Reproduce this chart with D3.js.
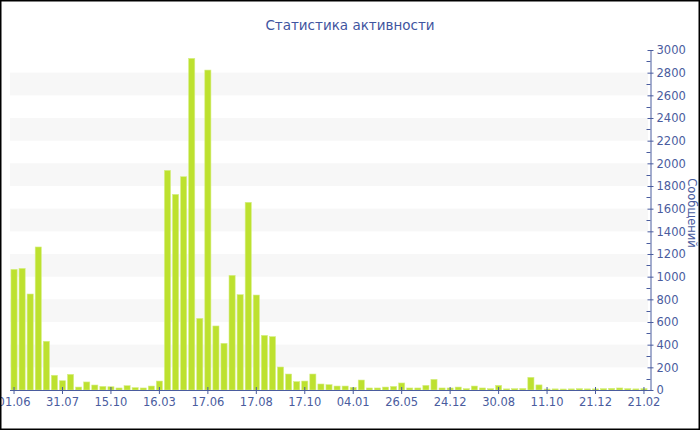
<!DOCTYPE html>
<html>
<head>
<meta charset="utf-8">
<script src="https://cdn.jsdelivr.net/npm/d3@7"></script>
<style>
  body { margin: 0; background: #fff; }
  svg { display: block; font-family: 'DejaVu Sans', Verdana, sans-serif; }
</style>
</head>
<body>
<div id="wrapper"></div>
<script>
// messages per period
const messages = [
    1065, 1073, 847, 1262, 430, 130, 82, 138, 26, 71,
    44, 32, 29, 18, 38, 21, 18, 35, 79, 1938,
    1726, 1882, 2926, 632, 2823, 565, 412, 1012, 841, 1656,
    838, 482, 471, 203, 141, 74, 79, 141, 53, 47,
    35, 35, 24, 88, 18, 18, 26, 32, 62, 18,
    18, 41, 94, 18, 18, 26, 12, 35, 18, 12,
    41, 10, 12, 14, 112, 45, 9, 10, 9, 10,
    12, 10, 10, 12, 15, 18, 12, 10, 12
]
// labels shown under every 6th bar
const tickLabels = ['01.06', '31.07', '15.10', '16.03', '17.06', '17.08', '17.10',
    '04.01', '26.05', '24.12', '30.08', '11.10', '21.12', '21.02']
const tickEvery = 6
const yTicks = d3.range(0, 3001, 200)
const yMinorTicks = d3.range(100, 3000, 200)
// lower edge of each grey band
const bandStarts = d3.range(200, 3000, 400)

const title = 'Статистика активности'
const yTitle = 'Сообщений'

const axisColor = '#4a5c9e'
const textColor = '#4a5c9e'

let dimensions = {
    width: 700,
    height: 430,
    margin: { top: 50, right: 50, bottom: 40, left: 10 }
}
dimensions.boundedWidth = dimensions.width - dimensions.margin.left - dimensions.margin.right
dimensions.boundedHeight = dimensions.height - dimensions.margin.top - dimensions.margin.bottom

function drawChart () {
    const svg = d3.select('#wrapper').append('svg')
        .attr('width', dimensions.width)
        .attr('height', dimensions.height)

    const bounds = svg.append('g')
        .attr('transform', `translate(${dimensions.margin.left}, ${dimensions.margin.top})`)

    const xScale = d3.scaleBand()
        .domain(d3.range(messages.length))
        .range([0, dimensions.boundedWidth - 2])
        .paddingInner(0.24)
        .paddingOuter(0.12)

    const yScale = d3.scaleLinear()
        .domain([0, 3000])
        .range([dimensions.boundedHeight, 0])

    // alternate grey bands
    bounds.append('g').selectAll('rect')
        .data(bandStarts)
        .join('rect')
        .attr('x', 0)
        .attr('width', dimensions.boundedWidth - 2)
        .attr('y', d => yScale(d + 200))
        .attr('height', d => yScale(d) - yScale(d + 200))
        .attr('fill', '#f7f7f7')

    // bars
    bounds.append('g').selectAll('rect')
        .data(messages)
        .join('rect')
        .attr('x', (d, i) => xScale(i))
        .attr('width', xScale.bandwidth())
        .attr('y', d => yScale(d))
        .attr('height', d => yScale(0) - yScale(d))
        .attr('fill', '#bde12f')
        .attr('stroke', '#d6ee86')
        .attr('stroke-width', 0.6)

    // x axis
    const xAxisGenerator = d3.axisBottom(xScale)
        .tickValues(d3.range(0, messages.length, tickEvery))
        .tickFormat(i => tickLabels[i / tickEvery])
        .tickSizeInner(4)
        .tickSizeOuter(0)
        .tickPadding(4)

    const xAxis = bounds.append('g')
        .attr('transform', `translate(0, ${dimensions.boundedHeight})`)
        .call(xAxisGenerator)
    xAxis.select('.domain').attr('stroke', axisColor).attr('d', `M0,0.5H${dimensions.boundedWidth}`)
    xAxis.selectAll('.tick line').attr('stroke', axisColor).attr('y1', -3)
    xAxis.selectAll('.tick text')
        .attr('fill', textColor)
        .style('font-size', '11.5px')
        .style('font-family', "'DejaVu Sans', Verdana, sans-serif")

    // y axis on the right
    const yAxisGenerator = d3.axisRight(yScale)
        .tickValues(yTicks)
        .tickFormat(d3.format('d'))
        .tickSizeInner(3)
        .tickSizeOuter(0)
        .tickPadding(3)

    const yAxis = bounds.append('g')
        .attr('transform', `translate(${dimensions.boundedWidth + 0.5}, 0)`)
        .call(yAxisGenerator)
    yAxis.select('.domain').attr('stroke', axisColor)
    yAxis.selectAll('.tick line').attr('stroke', axisColor).attr('x1', -3)
    yAxis.selectAll('.tick text')
        .attr('fill', textColor)
        .style('font-size', '11.5px')
        .style('font-family', "'DejaVu Sans', Verdana, sans-serif")

    yAxis.append('g').selectAll('line')
        .data(yMinorTicks)
        .join('line')
        .attr('x1', -4)
        .attr('x2', 0)
        .attr('y1', d => Math.round(yScale(d)) + 0.5)
        .attr('y2', d => Math.round(yScale(d)) + 0.5)
        .attr('stroke', axisColor)

    // y title
    svg.append('text')
        .attr('transform', `translate(688, 213) rotate(90)`)
        .attr('text-anchor', 'middle')
        .attr('fill', textColor)
        .style('font-size', '11.5px')
        .text(yTitle)

    // title
    svg.append('text')
        .attr('x', dimensions.width / 2)
        .attr('y', 30)
        .attr('text-anchor', 'middle')
        .attr('fill', '#3f55a0')
        .style('font-size', '13.5px')
        .text(title)

    // frame
    svg.append('rect')
        .attr('x', 0.75)
        .attr('y', 0.75)
        .attr('width', dimensions.width - 1.5)
        .attr('height', dimensions.height - 1.5)
        .attr('fill', 'none')
        .attr('stroke', '#000')
        .attr('stroke-width', 1.5)
}

drawChart()
</script>
</body>
</html>
